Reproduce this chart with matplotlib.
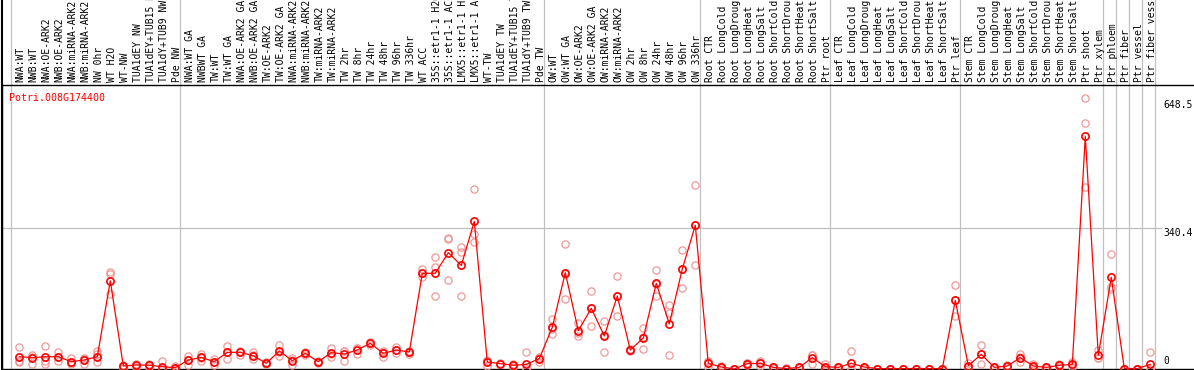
import numpy as np
import matplotlib
matplotlib.use("Agg")
import matplotlib.pyplot as plt
import matplotlib.transforms as mtransforms

gene = "Potri.008G174400"

labels = [
    "NWA:WT", "NWB:WT", "NWA:OE-ARK2", "NWB:OE-ARK2", "NWA:miRNA-ARK2", "NWB:miRNA-ARK2",
    "NW 0hr", "WT H2O", "WT-NW", "TUA1dEY NW", "TUA1dEY+TUB15 NW", "TUA1dY+TUB9 NW", "Pde NW",
    "NWA:WT GA", "NWBWT GA", "TW:WT", "TW:WT GA", "NWA:OE-ARK2 GA", "NWB:OE-ARK2 GA",
    "TW:OE-ARK2", "TW:OE-ARK2 GA", "NWA:miRNA-ARK2 GA", "NWB:miRNA-ARK2 GA", "TW:miRNA-ARK2",
    "TW:miRNA-ARK2", "TW 2hr", "TW 8hr", "TW 24hr", "TW 48hr", "TW 96hr", "TW 336hr", "WT ACC",
    "35S::etr1-1 H2O", "35S::etr1-1 ACC", "LMX5::etr1-1 H2O", "LMX5::etr1-1 ACC", "WT-TW",
    "TUA1dEY TW", "TUA1dEY+TUB15 TW", "TUA1dY+TUB9 TW", "Pde TW",
    "OW:WT", "OW:WT GA", "OW:OE-ARK2", "OW:OE-ARK2 GA", "OW:miRNA-ARK2", "OW:miRNA-ARK2",
    "OW 2hr", "OW 8hr", "OW 24hr", "OW 48hr", "OW 96hr", "OW 336hr",
    "Root CTR", "Root LongCold", "Root LongDrought", "Root LongHeat", "Root LongSalt",
    "Root ShortCold", "Root ShortDrought", "Root ShortHeat", "Root ShortSalt", "Ptr root",
    "Leaf CTR", "Leaf LongCold", "Leaf LongDrought", "Leaf LongHeat", "Leaf LongSalt",
    "Leaf ShortCold", "Leaf ShortDrought", "Leaf ShortHeat", "Leaf ShortSalt", "Ptr leaf",
    "Stem CTR", "Stem LongCold", "Stem LongDrought", "Stem LongHeat", "Stem LongSalt",
    "Stem ShortCold", "Stem ShortDrought", "Stem ShortHeat", "Stem ShortSalt", "Ptr shoot",
    "Ptr xylem",
    "Ptr phloem", "Ptr fiber", "Ptr vessel", "Ptr fiber vessel",
]

group_sizes = [13, 28, 12, 10, 10, 11, 1, 1, 1, 1]

means = [
    29.7, 27.3, 29.7, 29.7, 17.7, 21.7, 29.7, 213.0, 7.2, 9.7, 9.0, 5.6, 3.2,
    21.7, 28.0, 17.7, 40.2, 40.2, 32.0, 13.7, 43.5, 20.0, 37.8, 17.7, 39.4, 36.2, 45.9,
    62.0, 37.8, 45.9, 41.0, 231.0, 231.0, 281.0, 250.0, 356.5, 16.9, 12.9, 8.9, 11.3, 25.0,
    100.6, 232.6, 92.5, 146.5, 79.7, 176.0, 45.9, 74.8, 207.0, 108.6, 241.4, 347.0,
    13.7, 4.8, 0.0, 12.9, 13.7, 3.9, 1.0, 3.9, 27.4, 5.6,
    3.9, 13.7, 4.8, 1.0, 1.0, 1.0, 1.0, 1.0, 1.0, 165.8,
    8.0, 35.4, 3.9, 7.2, 27.4, 7.2, 3.9, 8.8, 11.2, 561.7, 33.0,
    221.3, 1.0, 1.0, 11.2,
]

rep1 = [
    53, 34, 55, 42, 26, 26, 44, 233, 10, 12, 11, 20, 8,
    32, 37, 24, 56, 43, 40, 17, 58, 27, 40, 20, 51.5, 44, 50,
    66, 44, 54, 43, 241, 271, 315.5, 294, 434, 20, 14, 10, 40, 30,
    121, 301, 110, 188, 115, 224.5, 48, 100, 239, 154.5, 287, 444,
    20, 8, 0, 14, 19, 5, 1, 6, 35, 12,
    5, 43.5, 6, 1, 1, 1, 1, 1, 1, 202,
    15, 57, 5, 10, 37, 12, 5, 12, 18, 653.5, 46,
    277.6, 1, 1, 40,
]
rep2 = [
    20, 12, 20, 20, 14, 12, 36, 229, 3, 6, 6, 2, 0,
    10, 20, 10, 24, 35, 23, 11, 31, 10, 34, 15, 30, 20, 36,
    58, 30, 38, 37, 221, 245.5, 313, 282, 326, 8, 11, 6, 2, 18,
    84, 168, 80, 104, 41, 128, 44, 47.5, 176, 136, 195, 250,
    6, 2, 0, 10, 8, 2, 0, 2, 12, 2,
    2, 0, 3, 1, 1, 1, 1, 1, 1, 129,
    4, 12, 2, 4, 17, 4, 2, 6, 6, 593, 27,
    198.8, 0, 0, 0,
]
rep3 = [
    18, 30, 12, 28, 12, 24, 18, 181, 8, 10, 9, 0, 2,
    22, 27, 18, 40, 42, 33, 13, 42, 22, 38, 18, 37, 44, 50,
    62, 40, 46, 42, 231, 176, 215, 176, 307, 22, 13, 11, 0, 27,
    97, 229, 88, 148, 83, 176, 46, 77, 206, 33, 242, 347,
    15, 4, 0, 14, 14, 4, 2, 4, 35, 3,
    4, 0, 5, 1, 1, 1, 1, 1, 1, 166,
    5, 37, 4, 8, 28, 6, 4, 9, 10, 438.6, 26,
    192.3, 1, 1, 0,
]

y_ticks = [0, 340.4, 648.5]
y_tick_labels = ["0", "340.4", "648.5"]

# ---------------- figure / layout (pixel geometry) ----------------
W, H = 1194, 370
fig = plt.figure(figsize=(W / 100, H / 100), dpi=100)
fig.patch.set_facecolor("white")

x0_px, step_px = 19.3, 13.0      # pixel position of the first category, spacing
ax_left_px, ax_top_px, ax_bot_px = 2, 85, 369
px_per_unit = 0.4142

ax = fig.add_axes([ax_left_px / W, (H - ax_bot_px) / H,
                   (W - ax_left_px) / W, (ax_bot_px - ax_top_px) / H])
ax.set_xlim((ax_left_px - x0_px) / step_px, (W - x0_px) / step_px)
ax.set_ylim(0, (ax_bot_px - ax_top_px) / px_per_unit)
ax.set_xticks([])
ax.set_yticks([])
for s in ["top", "left", "bottom"]:
    ax.spines[s].set_color("black")
    ax.spines[s].set_linewidth(1.0)
ax.spines["right"].set_visible(False)

ax_h = ax_bot_px - ax_top_px
top_ext = ax_bot_px / ax_h  # axes fraction reaching figure top

mono = "DejaVu Sans Mono"
grid_c = "#c0c0c0"

# group separators
bounds = np.concatenate([[-1], np.cumsum(group_sizes) - 1]) + 5 / step_px
for b in bounds:
    ax.axvline(b, ymin=0, ymax=top_ext, color=grid_c, lw=0.9, clip_on=False, zorder=1)
# left frame line extended to top
ax.axvline(ax.get_xlim()[0], ymin=0, ymax=top_ext, color="black", lw=1.5, clip_on=False, zorder=5)

# horizontal grid at middle tick
x_end = (1161 - x0_px) / step_px
ax.plot([ax.get_xlim()[0], x_end], [y_ticks[1], y_ticks[1]], color=grid_c, lw=0.9, zorder=1)

# category labels
blend = mtransforms.blended_transform_factory(ax.transData, ax.transAxes)
x = np.arange(len(labels))
for i, lab in enumerate(labels):
    ax.text(x[i] + 0.1, 1 + 2.5 / ax_h, lab, transform=blend, rotation=90,
            ha="center", va="bottom", fontsize=7, family=mono, color="black",
            clip_on=False)

# replicate points
for reps in (rep1, rep2, rep3):
    ax.plot(x, reps, linestyle="none", marker="o", markersize=5.2,
            markerfacecolor="none", markeredgecolor="#ee9999", markeredgewidth=0.9,
            clip_on=False, zorder=3)

# mean line
ax.plot(x, means, color="red", lw=0.9, marker="o", markersize=5.2,
        markerfacecolor="none", markeredgecolor="red", markeredgewidth=1.2,
        clip_on=False, zorder=4)

# gene title
ax.text((9 - ax_left_px) / (W - ax_left_px), (ax_bot_px - 101) / ax_h, gene,
        transform=ax.transAxes, ha="left", va="baseline", fontsize=7.2,
        family=mono, color="red")

# right value labels
xl = (1163 - x0_px) / step_px
for v, t in zip(y_ticks, y_tick_labels):
    if v == 0:
        tr = mtransforms.offset_copy(ax.transData, fig=fig, y=3, units="dots")
        ax.text(xl, v, t, transform=tr, ha="left", va="bottom", fontsize=7,
                family=mono, color="black", clip_on=False)
    else:
        ax.text(xl, v, t, ha="left", va="top", fontsize=7, family=mono,
                color="black", clip_on=False)

fig.savefig("out.png", dpi=100, facecolor="white")
